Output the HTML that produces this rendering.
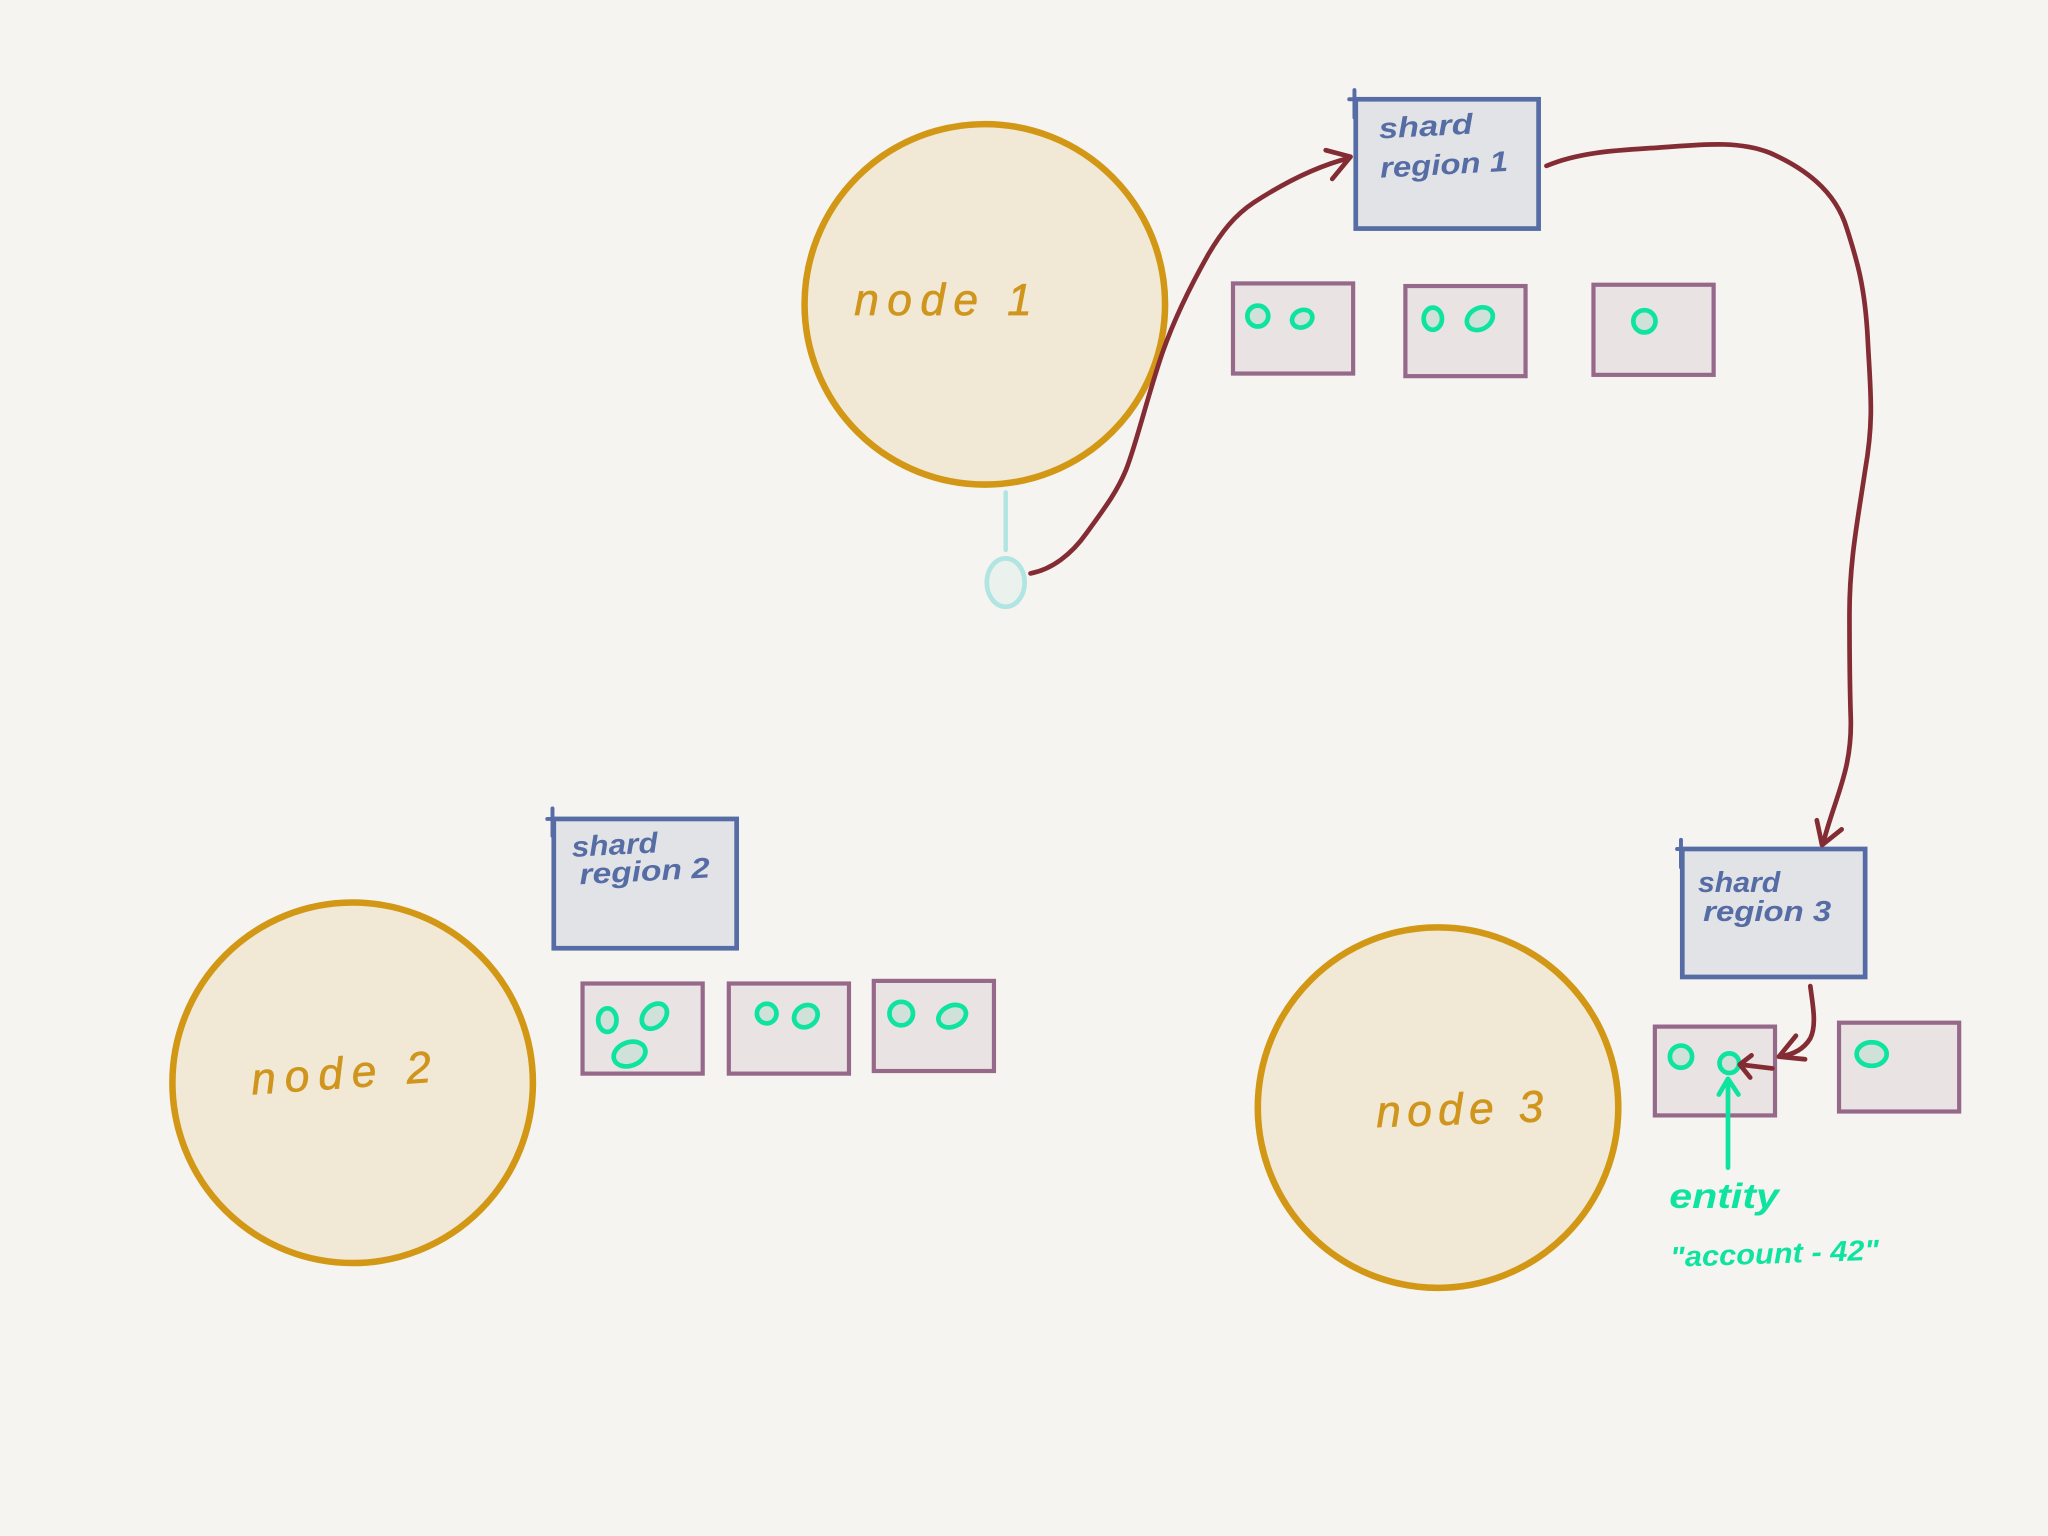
<!DOCTYPE html>
<html><head><meta charset="utf-8"><style>
html,body{margin:0;padding:0;background:#f5f4f0;width:2048px;height:1536px;overflow:hidden}
svg{display:block}
text{font-family:"Liberation Sans",sans-serif;font-style:italic}
.n{fill:#d0951c;font-size:34px;stroke:#d0951c;stroke-width:.5}
.b{fill:#566ca5;font-size:22px;font-weight:bold}
.g{fill:#0ee3a0;font-weight:bold}
.big{fill:#f1e8d5;stroke:#d29714;stroke-width:5}
.sr{fill:#e2e3e7;stroke:#566ca5;stroke-width:3.6}
.sh{fill:#e9e3e3;stroke:#96688a;stroke-width:3.2}
.e{fill:#d0e1d9;stroke:#0ee3a0;stroke-width:3.6}
.r{fill:none;stroke:#842c33;stroke-width:3.6;stroke-linecap:round;stroke-linejoin:round}
.l{fill:none;stroke:#566ca5;stroke-width:3;stroke-linecap:round}
.gl{fill:none;stroke:#0ee3a0;stroke-width:3.6;stroke-linecap:round;stroke-linejoin:round}
</style></head><body>
<svg xmlns="http://www.w3.org/2000/svg" width="2048" height="1536" viewBox="0 0 1568 1176">
<rect width="1568" height="1176" fill="#f5f4f0"/>
<circle class="big" cx="754" cy="233" r="138"/>
<circle class="big" cx="270" cy="829" r="138"/>
<circle class="big" cx="1101" cy="848" r="138"/>
<text class="n" x="654" y="241" textLength="136" lengthAdjust="spacing">node 1</text>
<text class="n" x="193" y="838" textLength="138" lengthAdjust="spacing" transform="rotate(-4 193 838)">node 2</text>
<text class="n" x="1054" y="863" textLength="128" lengthAdjust="spacing" transform="rotate(-2 1054 863)">node 3</text>

<rect class="sr" x="1038" y="76" width="140" height="99"/><path class="l" d="M1037 69V90M1033 76H1048"/>
<rect class="sr" x="424" y="627" width="140" height="99"/><path class="l" d="M423 619V640M419 627H434"/>
<rect class="sr" x="1288" y="650" width="140" height="98"/><path class="l" d="M1287 643V664M1284 650H1298"/>
<text class="b" x="1056" y="106" textLength="72" lengthAdjust="spacingAndGlyphs" transform="rotate(-3 1056 106)">shard</text>
<text class="b" x="1057" y="136" textLength="98" lengthAdjust="spacingAndGlyphs" transform="rotate(-3 1057 136)">region 1</text>
<text class="b" x="438" y="656" textLength="66" lengthAdjust="spacingAndGlyphs" transform="rotate(-3 438 656)">shard</text>
<text class="b" x="444" y="677" textLength="100" lengthAdjust="spacingAndGlyphs" transform="rotate(-3 444 677)">region 2</text>
<text class="b" x="1300" y="683" textLength="63" lengthAdjust="spacingAndGlyphs">shard</text>
<text class="b" x="1304" y="705" textLength="98" lengthAdjust="spacingAndGlyphs">region 3</text>

<rect class="sh" x="944" y="217" width="92" height="69"/>
<rect class="sh" x="1076" y="219" width="92" height="69"/>
<rect class="sh" x="1220" y="218" width="92" height="69"/>
<rect class="sh" x="446" y="753" width="92" height="69"/>
<rect class="sh" x="558" y="753" width="92" height="69"/>
<rect class="sh" x="669" y="751" width="92" height="69"/>
<rect class="sh" x="1267" y="786" width="92" height="68"/>
<rect class="sh" x="1408" y="783" width="92" height="68"/>

<ellipse class="e" cx="963" cy="242" rx="8" ry="8"/>
<ellipse class="e" cx="997" cy="244" rx="8" ry="6.5" transform="rotate(-25 997 244)"/>
<ellipse class="e" cx="1097" cy="244" rx="7" ry="8.5"/>
<ellipse class="e" cx="1133" cy="244" rx="10.5" ry="8" transform="rotate(-30 1133 244)"/>
<ellipse class="e" cx="1259" cy="246" rx="8.5" ry="8.5"/>
<ellipse class="e" cx="465" cy="781" rx="7" ry="9"/>
<ellipse class="e" cx="501" cy="778" rx="11" ry="8" transform="rotate(-45 501 778)"/>
<ellipse class="e" cx="482" cy="807" rx="12.5" ry="9" transform="rotate(-20 482 807)"/>
<ellipse class="e" cx="587" cy="776" rx="7.5" ry="7.5"/>
<ellipse class="e" cx="617" cy="778" rx="9.5" ry="8" transform="rotate(-35 617 778)"/>
<ellipse class="e" cx="690" cy="776" rx="9" ry="9"/>
<ellipse class="e" cx="729" cy="778" rx="11" ry="8" transform="rotate(-25 729 778)"/>
<ellipse class="e" cx="1287" cy="809" rx="8.5" ry="8.5"/>
<ellipse class="e" cx="1324" cy="814" rx="7.5" ry="7.5"/>
<ellipse class="e" cx="1433" cy="807" rx="11.5" ry="9"/>

<path d="M770 377V421" fill="none" stroke="#b0e5e2" stroke-width="3.4" stroke-linecap="round"/>
<ellipse cx="770" cy="446" rx="14.5" ry="18.5" fill="#ebf1ec" stroke="#b0e5e2" stroke-width="3.6"/>

<path class="r" d="M789 439C805 436 820 425 832 408C845 390 855 377 862 360C870 340 878 305 890 270C897 250 908 225 925 195C935 178 945 165 960 155C980 142 1005 128 1033 121"/>
<path class="r" d="M1015 115L1034 120L1020 137"/>
<path class="r" d="M1184 127C1210 116 1240 115 1270 113C1300 111 1330 107 1355 117C1380 128 1405 145 1414 175C1422 200 1428 220 1430 260C1432 300 1435 320 1428 360C1422 400 1416 430 1416 470C1416 500 1416 520 1417 550C1418 590 1405 610 1396 645"/>
<path class="r" d="M1391 628L1395 647L1410 635"/>
<path class="r" d="M1386 755C1388 770 1391 785 1386 795C1380 805 1370 808 1362 809"/>
<path class="r" d="M1375 793L1362 809L1382 811"/>
<path class="r" d="M1357 818L1332 815M1341 808L1332 815L1340 825"/>

<path class="gl" d="M1323 894V829M1316 838L1323 826L1331 838"/>
<text class="g" x="1278" y="925" font-size="27" textLength="84" lengthAdjust="spacingAndGlyphs">entity</text>
<text class="g" x="1279" y="970" font-size="22" textLength="160" lengthAdjust="spacingAndGlyphs" transform="rotate(-2 1279 970)">"account - 42"</text>
</svg>
</body></html>
